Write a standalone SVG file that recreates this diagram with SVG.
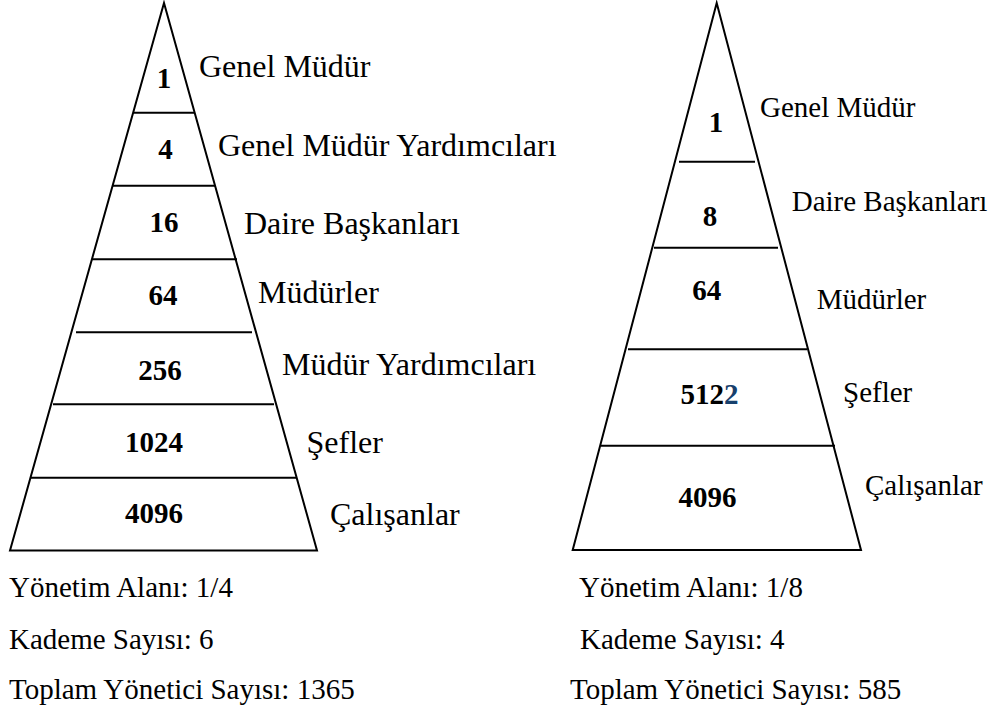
<svg xmlns="http://www.w3.org/2000/svg" width="999" height="710" viewBox="0 0 999 710">
<style>
.shape{fill:none;stroke:#000;stroke-width:2}
.num{font-family:"Liberation Serif",serif;font-weight:bold;font-size:29px;fill:#000;text-anchor:middle}
.lbl{font-family:"Liberation Serif",serif;font-size:29px;fill:#000}
.lbl-l{font-family:"Liberation Serif",serif;font-size:32px;fill:#000}
</style>
<rect width="999" height="710" fill="#fff"/>
<g id="left-pyramid">
<polygon class="shape" points="164,3 10,550.5 317,550.5"/>
<g id="left-dividers" class="shape">
<line x1="133" y1="112.7" x2="194" y2="112.7"/>
<line x1="113" y1="185.7" x2="215" y2="185.7"/>
<line x1="92" y1="259.3" x2="237" y2="259.3"/>
<line x1="76" y1="332.3" x2="252" y2="332.3"/>
<line x1="53" y1="404.3" x2="274" y2="404.3"/>
<line x1="31" y1="477.7" x2="297" y2="477.7"/>
</g>
<g id="left-l1"><text class="num" x="164" y="88">1</text><text class="lbl-l" x="199" y="77">Genel Müdür</text></g>
<g id="left-l2"><text class="num" x="165.5" y="159">4</text><text class="lbl-l" x="218" y="156">Genel Müdür Yardımcıları</text></g>
<g id="left-l3"><text class="num" x="164" y="232">16</text><text class="lbl-l" x="244" y="234">Daire Başkanları</text></g>
<g id="left-l4"><text class="num" x="163" y="305">64</text><text class="lbl-l" x="258" y="303">Müdürler</text></g>
<g id="left-l5"><text class="num" x="160" y="380">256</text><text class="lbl-l" x="282" y="375">Müdür Yardımcıları</text></g>
<g id="left-l6"><text class="num" x="154" y="452">1024</text><text class="lbl-l" x="306.5" y="453">Şefler</text></g>
<g id="left-l7"><text class="num" x="154" y="523">4096</text><text class="lbl-l" x="330" y="525">Çalışanlar</text></g>
</g>
<g id="right-pyramid">
<polygon class="shape" points="716.7,3 572.7,550 861,550"/>
<g id="right-dividers" class="shape">
<line x1="679" y1="161.7" x2="755" y2="161.7"/>
<line x1="654" y1="247.7" x2="778" y2="247.7"/>
<line x1="628" y1="349.3" x2="807" y2="349.3"/>
<line x1="601" y1="445.7" x2="835" y2="445.7"/>
</g>
<g id="right-l1"><text class="num" x="716" y="131.7">1</text><text class="lbl" x="760" y="116.7">Genel Müdür</text></g>
<g id="right-l2"><text class="num" x="710" y="226">8</text><text class="lbl" x="791.7" y="210.7">Daire Başkanları</text></g>
<g id="right-l3"><text class="num" x="706.7" y="300">64</text><text class="lbl" x="816.7" y="309.3">Müdürler</text></g>
<g id="right-l4"><text class="num" x="709.5" y="404">512<tspan fill="#17406d">2</tspan></text><text class="lbl" x="843" y="401.7">Şefler</text></g>
<g id="right-l5"><text class="num" x="707.5" y="506.7">4096</text><text class="lbl" x="865" y="495">Çalışanlar</text></g>
</g>
<g id="left-summary">
<text class="lbl" x="9" y="597">Yönetim Alanı: 1/4</text>
<text class="lbl" x="9" y="649">Kademe Sayısı: 6</text>
<text class="lbl" x="9" y="699">Toplam Yönetici Sayısı: 1365</text>
</g>
<g id="right-summary">
<text class="lbl" x="579" y="597">Yönetim Alanı: 1/8</text>
<text class="lbl" x="580" y="649">Kademe Sayısı: 4</text>
<text class="lbl" x="570" y="699">Toplam Yönetici Sayısı: 585</text>
</g>
</svg>
